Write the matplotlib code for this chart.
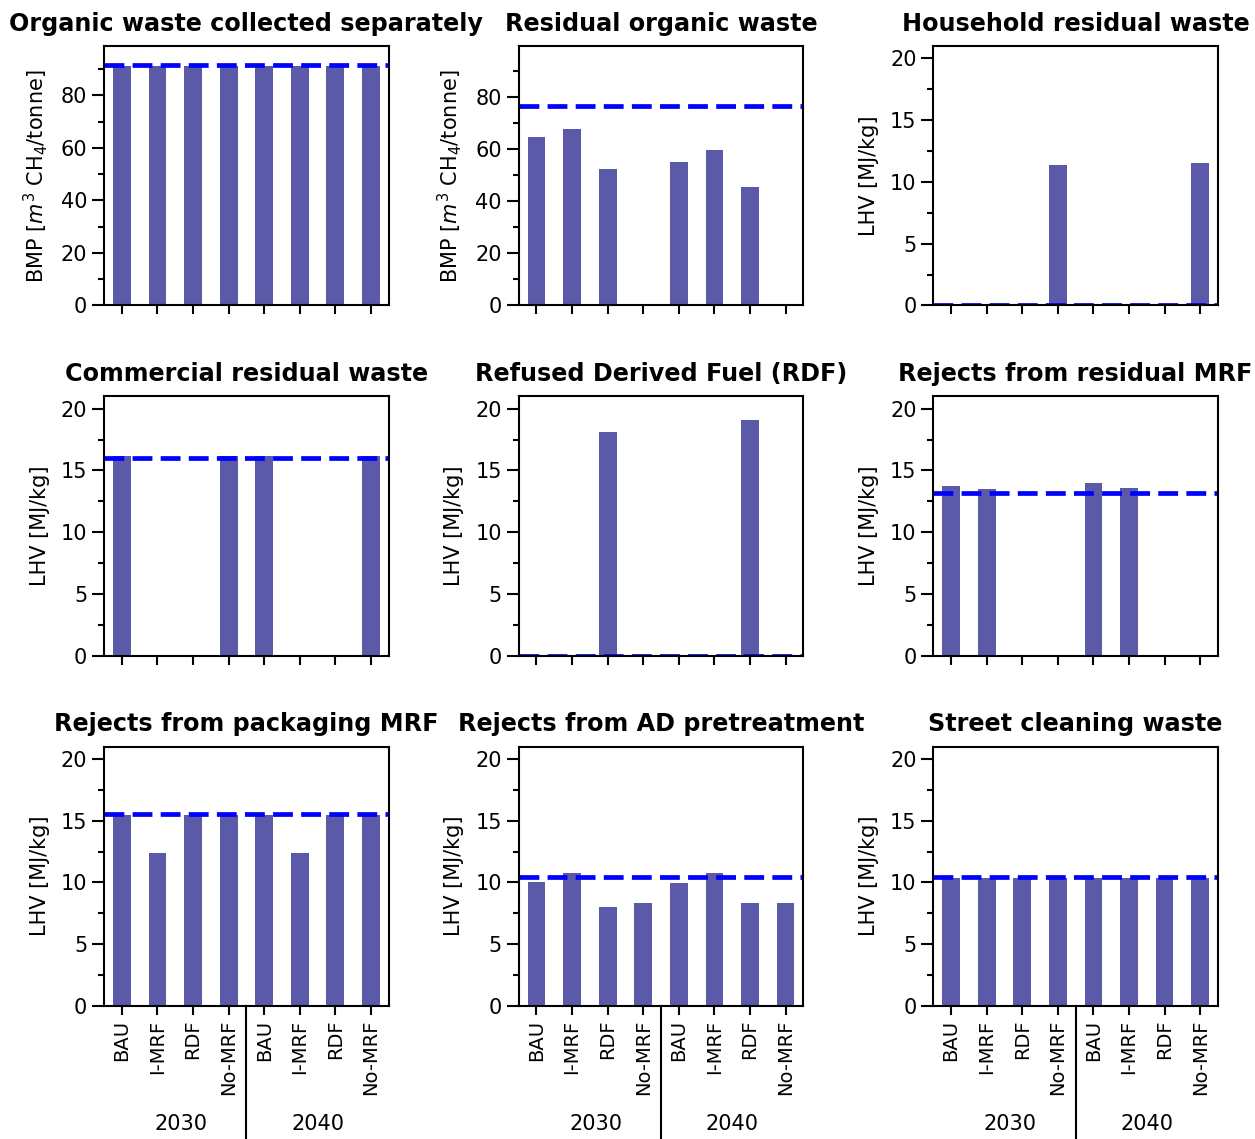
import matplotlib
matplotlib.use("Agg")
import matplotlib.pyplot as plt
from matplotlib.ticker import MultipleLocator

# Scenarios and years on the x axis
scenarios = ["BAU", "I-MRF", "RDF", "No-MRF"]
years = ["2030", "2040"]

titles = [
    "Organic waste collected separately",
    "Residual organic waste",
    "Household residual waste",
    "Commercial residual waste",
    "Refused Derived Fuel (RDF)",
    "Rejects from residual MRF",
    "Rejects from packaging MRF",
    "Rejects from AD pretreatment",
    "Street cleaning waste",
]

# Bar values: 2030 (BAU, I-MRF, RDF, No-MRF) followed by 2040
organic_separate = [91.0, 91.0, 91.0, 91.0, 91.0, 91.0, 91.0, 91.0]
residual_organic = [64.9, 67.7, 52.5, 0.0, 55.3, 59.7, 45.6, 0.0]
household_residual = [0.0, 0.0, 0.0, 11.4, 0.0, 0.0, 0.0, 11.55]
commercial_residual = [16.2, 0.0, 0.0, 16.2, 16.2, 0.0, 0.0, 16.2]
rdf_fuel = [0.0, 0.0, 18.1, 0.0, 0.0, 0.0, 19.1, 0.0]
rejects_residual_mrf = [13.7, 13.5, 0.0, 0.0, 14.0, 13.6, 0.0, 0.0]
rejects_packaging_mrf = [15.45, 12.4, 15.45, 15.45, 15.45, 12.4, 15.45, 15.45]
rejects_ad = [10.05, 10.8, 8.05, 8.3, 9.95, 10.75, 8.3, 8.3]
street_cleaning = [10.35, 10.35, 10.35, 10.35, 10.35, 10.35, 10.35, 10.35]

# Reference value (dashed line) for each stream
reference_values = [91.5, 76.8, 0.0, 16.0, 0.0, 13.15, 15.55, 10.4, 10.45]

panel_values = [
    organic_separate, residual_organic, household_residual,
    commercial_residual, rdf_fuel, rejects_residual_mrf,
    rejects_packaging_mrf, rejects_ad, street_cleaning,
]

bmp_label = "BMP [$m^3$ CH$_4$/tonne]"
lhv_label = "LHV [MJ/kg]"
ylabels = [bmp_label, bmp_label] + [lhv_label] * 7
ylims = [(0, 98.8), (0, 99.7)] + [(0, 21)] * 7

# Horizontal positions (data units) of the year captions under the bottom row
year_label_x = [1.66, 5.5]

bar_color = "#5a5aa9"
plt.rcParams["font.family"] = "DejaVu Sans"

fig, axes = plt.subplots(3, 3, figsize=(12.55, 11.39), dpi=100)
fig.subplots_adjust(left=0.0829, right=0.9705, top=0.9596, bottom=0.1168,
                    wspace=0.456, hspace=0.35)

tick_labels = scenarios * len(years)
x = list(range(len(tick_labels)))

for i, ax in enumerate(axes.flat):
    vals = panel_values[i]
    ax.bar(x, vals, width=0.5, color=bar_color, zorder=1)
    ax.axhline(reference_values[i], color="blue", lw=3.4,
               linestyle=(0, (4.2, 1.75)), zorder=2)
    ax.set_xlim(-0.5, len(x) - 0.5)
    ax.set_ylim(*ylims[i])
    ax.set_title(titles[i], fontsize=17.2, fontweight="bold", pad=11)
    ax.set_ylabel(ylabels[i], fontsize=15, labelpad=8)
    if ylims[i][1] > 50:
        ax.yaxis.set_major_locator(MultipleLocator(20))
        ax.yaxis.set_minor_locator(MultipleLocator(10))
    else:
        ax.yaxis.set_major_locator(MultipleLocator(5))
        ax.yaxis.set_minor_locator(MultipleLocator(2.5))
    ax.set_xticks(x)
    for s in ax.spines.values():
        s.set_linewidth(1.5)
    ax.tick_params(axis="y", which="major", direction="out", length=8.5,
                   width=1.5, labelsize=15)
    ax.tick_params(axis="y", which="minor", direction="out", length=4.5,
                   width=1.5)
    ax.tick_params(axis="x", which="major", direction="out", length=6.5,
                   width=1.5, labelsize=14)
    row = i // 3
    if row == 2:
        ax.set_xticklabels(tick_labels, rotation=90)
        # separator between the two years
        ax.plot([len(scenarios) - 0.5] * 2, [0, -0.7], color="black", lw=1.5,
                transform=ax.get_xaxis_transform(), clip_on=False)
        for yx, yr in zip(year_label_x, years):
            ax.text(yx, -0.455, yr, transform=ax.get_xaxis_transform(),
                    ha="center", va="center", fontsize=15)
    else:
        ax.set_xticklabels([])

fig.savefig("out.png", dpi=100)
